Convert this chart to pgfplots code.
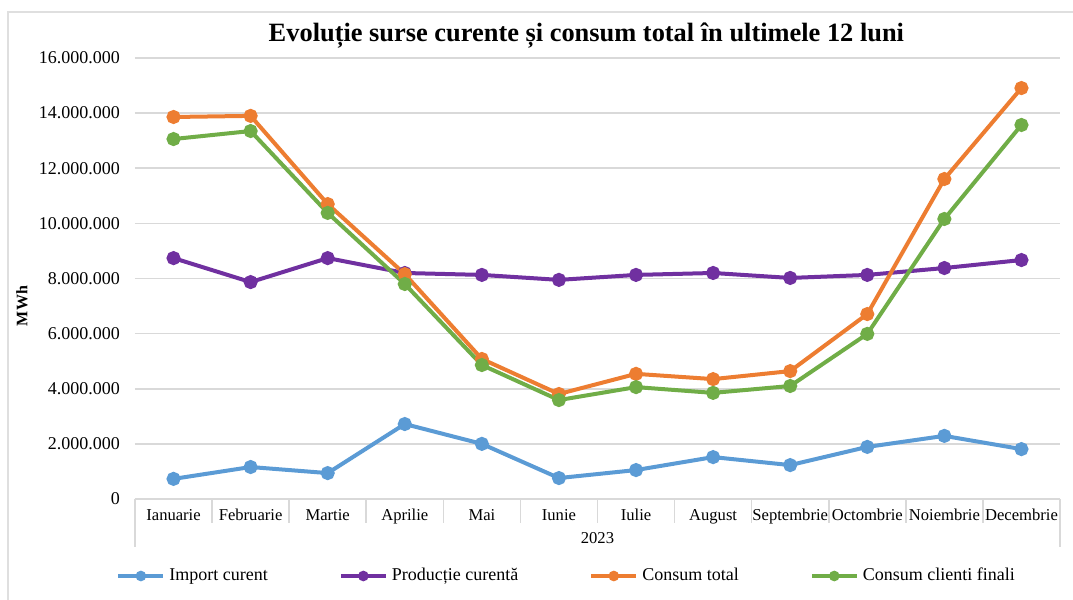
\documentclass[border=0pt]{standalone}
\usepackage{fontspec}
\setmainfont{Liberation Serif}
\usepackage{pgfplots}
\pgfplotsset{compat=1.18}

\definecolor{cimport}{HTML}{5B9BD5}
\definecolor{cprod}{HTML}{7030A0}
\definecolor{ctotal}{HTML}{ED7D31}
\definecolor{cclienti}{HTML}{70AD47}
\definecolor{gridgray}{HTML}{D9D9D9}

\begin{document}
\begin{tikzpicture}
  \begin{axis}[%
    scale only axis,
    width=462.5pt, height=220.5pt,
    clip=false,
    /pgf/number format/assume math mode=true,
    font=\fontsize{9}{10}\selectfont,
    % x-axis
    xmin=-0.5, xmax=11.5,
    xtick={0,...,11},
    xticklabels={Ianuarie,Februarie,Martie,Aprilie,Mai,Iunie,Iulie,August,Septembrie,Octombrie,Noiembrie,Decembrie},
    xticklabel style={font=\fontsize{8.3}{9}\selectfont, anchor=base, yshift=-10.5pt},
    xtick style={draw=none},
    tick pos=left,
    xlabel={2023},
    xlabel style={at={(axis description cs:0.5,0)}, anchor=center, yshift=-19.5pt,
                  font=\fontsize{8.3}{9}\selectfont},
    % y-axis
    ymin=0, ymax=16000000,
    ytick={0,2000000,...,16000000},
    scaled y ticks=false,
    yticklabel style={/pgf/number format/fixed, /pgf/number format/precision=0,
                      /pgf/number format/1000 sep={.}},
    yticklabel style={xshift=-4pt, font=\fontsize{9}{10}\selectfont},
    ytick style={draw=none},
    ymajorgrids=true,
    grid style={gridgray, line width=0.8pt},
    ylabel={\textbf{MWh}},
    ylabel style={at={(axis description cs:0,0.4376)}, anchor=center, yshift=56.5pt,
                  font=\fontsize{8}{9}\selectfont},
    axis line style={draw=none},
    % title
    title={\textbf{Evoluție surse curente și consum total în ultimele 12 luni}},
    title style={at={(axis description cs:0.488,1)}, anchor=base, yshift=2.5pt,
                 font=\fontsize{13.2}{15}\selectfont},
    % legend
    legend columns=4,
    legend style={at={(axis description cs:0,0)}, anchor=west, xshift=-12.5pt, yshift=-38.5pt,
                  draw=none, fill=none, font=\fontsize{9}{10}\selectfont,
                  /tikz/every even column/.append style={column sep=33.5pt}},
    legend image code/.code={%
      \draw[#1, mark size=1.6pt, mark repeat=2, mark phase=2]
        plot coordinates {(0pt,0pt) (11.25pt,0pt) (22.5pt,0pt)};},
    ]

    \tikzstyle{serie}=[line width=2pt, mark=*, mark size=2.5pt]

    % category separators
    \pgfplotsinvokeforeach{0.5,1.5,2.5,3.5,4.5,5.5,6.5,7.5,8.5,9.5,10.5}{
      \draw[gridgray, line width=0.8pt] (axis cs:#1,0) -- ++(0pt,-12pt);
    }
    \draw[gridgray, line width=0.8pt] (rel axis cs:0,0) -- ++(0pt,-24pt);
    \draw[gridgray, line width=0.8pt] (rel axis cs:1,0) -- ++(0pt,-24pt);

    \addplot [serie, color=cimport] coordinates {
      (0, 730000) (1, 1160000) (2, 940000) (3, 2720000) (4, 2000000) (5, 760000)
      (6, 1050000) (7, 1520000) (8, 1230000) (9, 1890000) (10, 2290000) (11, 1810000)
    };
    \addlegendentry{Import curent}

    \addplot [serie, color=cprod] coordinates {
      (0, 8740000) (1, 7870000) (2, 8740000) (3, 8200000) (4, 8130000) (5, 7950000)
      (6, 8130000) (7, 8200000) (8, 8020000) (9, 8130000) (10, 8380000) (11, 8670000)
    };
    \addlegendentry{Producție curentă}

    \addplot [serie, color=ctotal] coordinates {
      (0, 13860000) (1, 13900000) (2, 10700000) (3, 8160000) (4, 5080000) (5, 3810000)
      (6, 4540000) (7, 4350000) (8, 4640000) (9, 6710000) (10, 11610000) (11, 14910000)
    };
    \addlegendentry{Consum total}

    \addplot [serie, color=cclienti] coordinates {
      (0, 13060000) (1, 13350000) (2, 10380000) (3, 7800000) (4, 4860000) (5, 3590000)
      (6, 4060000) (7, 3850000) (8, 4100000) (9, 5990000) (10, 10160000) (11, 13570000)
    };
    \addlegendentry{Consum clienti finali}
  \end{axis}
  % chart frame
  \draw[gray!25, line width=0.6pt] (-63.5pt,-50.5pt) -- (-63.5pt,243.5pt) -- (469pt,243.5pt);
  \pgfresetboundingbox
  \useasboundingbox (-67.5pt,-50.5pt) rectangle (469pt,249.5pt);
\end{tikzpicture}
\end{document}
